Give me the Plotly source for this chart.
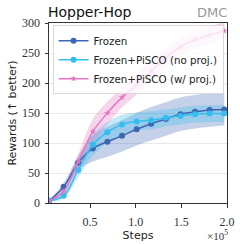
import plotly.graph_objects as go

steps = [5000, 21000, 37000, 53000, 69000, 85000, 101000, 117000, 133000, 149000, 165000, 181000, 197000]

frozen_mean = [3, 27, 67, 91, 102, 112, 123, 132, 140, 148, 152, 155, 156]
frozen_std = [2, 6, 12, 22, 25, 26, 27, 28, 28, 28, 28, 28, 27]

noproj_mean = [4, 12, 55, 97, 118, 131, 136, 138, 142, 145, 148, 149, 149]
noproj_std = [2, 5, 12, 18, 17, 16, 15, 15, 14, 14, 14, 14, 14]

wproj_mean = [3, 19, 69, 119, 150, 176, 197, 220, 242, 260, 272, 280, 287]
wproj_std = [2, 5, 12, 21, 19, 17, 16, 16, 16, 15, 15, 15, 14]

names = ["Frozen", "Frozen+PiSCO (no proj.)", "Frozen+PiSCO (w/ proj.)"]
colors = ["#3d66b3", "#35bdf0", "#e377c2"]
fills = ["rgba(61,102,179,0.3)", "rgba(53,189,240,0.3)", "rgba(227,119,194,0.3)"]
symbols = ["circle", "circle", "star"]
msizes = [6, 6, 5]

series = [(frozen_mean, frozen_std), (noproj_mean, noproj_std), (wproj_mean, wproj_std)]

fig = go.Figure()
for (m, s), name, c, fc in zip(series, names, colors, fills):
    upper = [a + b for a, b in zip(m, s)]
    lower = [a - b for a, b in zip(m, s)]
    fig.add_trace(go.Scatter(x=steps, y=upper, mode="lines", line=dict(width=0, shape="spline"),
                             showlegend=False, hoverinfo="skip"))
    fig.add_trace(go.Scatter(x=steps, y=lower, mode="lines", line=dict(width=0, shape="spline"),
                             fill="tonexty", fillcolor=fc, showlegend=False, hoverinfo="skip"))

for (m, s), name, c, sym, ms in zip(series, names, colors, symbols, msizes):
    fig.add_trace(go.Scatter(x=steps, y=m, mode="lines+markers", name=name,
                             line=dict(color=c, width=1.5, shape="spline"),
                             marker=dict(color=c, size=ms, symbol=sym)))

fig.update_layout(
    width=240, height=244,
    margin=dict(l=48.5, r=13, t=23, b=41, autoexpand=False),
    paper_bgcolor="white", plot_bgcolor="white",
    showlegend=True,
    legend=dict(x=0.02, y=0.988, xanchor="left", yanchor="top", traceorder="normal",
                bgcolor="rgba(255,255,255,0.8)", bordercolor="#d8d8d8", borderwidth=1,
                font=dict(family="DejaVu Sans", size=10.3, color="#222"),
                tracegroupgap=0, itemwidth=30),
    font=dict(family="DejaVu Sans", color="#222"),
)

fig.update_xaxes(range=[5000, 200000], tickvals=[50000, 100000, 150000, 200000],
                 ticktext=["0.5", "1.0", "1.5", "2.0"], ticks="outside", ticklen=3.5,
                 tickcolor="#333", showline=True, linecolor="#333", linewidth=1, mirror=True,
                 showgrid=False, zeroline=False, ticklabelstandoff=4,
                 tickfont=dict(family="Liberation Serif", size=12, color="#333"),
                 title=dict(text="Steps", font=dict(family="DejaVu Sans", size=11, color="#222"), standoff=0))
fig.update_yaxes(range=[0, 300], tickvals=[0, 50, 100, 150, 200, 250, 300], ticks="outside", ticklen=3.5,
                 tickcolor="#333", showline=True, linecolor="#333", linewidth=1, mirror=True,
                 showgrid=True, gridcolor="#e8e8e8", gridwidth=1, zeroline=False, ticklabelstandoff=2,
                 tickfont=dict(family="Liberation Serif", size=12, color="#333"),
                 title=dict(text="Rewards (\u2191 better)", font=dict(family="DejaVu Sans", size=11, color="#222"), standoff=3))

fig.add_annotation(text="Hopper-Hop", xref="paper", yref="paper", x=0, y=1, xanchor="left", yanchor="bottom",
                   showarrow=False, font=dict(family="DejaVu Sans", size=14, color="#111"), yshift=1, xshift=-3)
fig.add_annotation(text="DMC", xref="paper", yref="paper", x=1, y=1, xanchor="right", yanchor="bottom",
                   showarrow=False, font=dict(family="DejaVu Sans", size=13, color="#999"), yshift=1, xshift=2)
fig.add_annotation(text="\u00d710<sup>5</sup>", xref="paper", yref="paper", x=1, y=0, xanchor="right", yanchor="top",
                   showarrow=False, font=dict(family="Liberation Serif", size=11, color="#333"), yshift=-23, xshift=3)

fig.write_html("out.html", config={"displayModeBar": False},
               post_script="document.body.style.margin='0';document.body.style.padding='0';")
